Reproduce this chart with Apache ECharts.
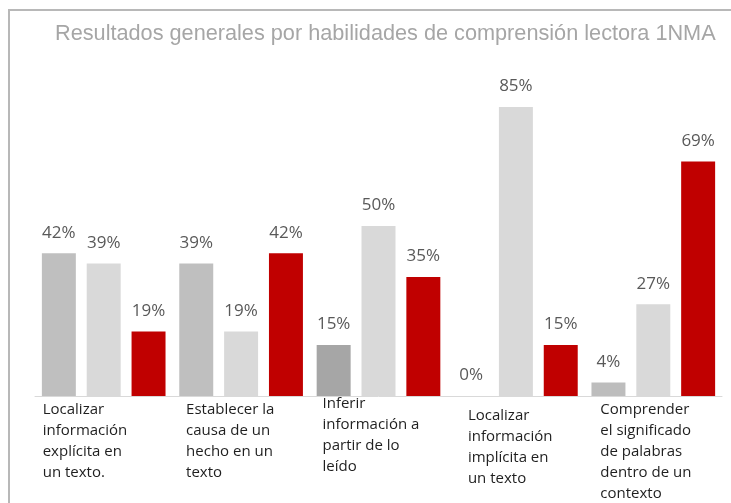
<!DOCTYPE html>
<html>
<head>
<meta charset="utf-8">
<script src="https://cdn.jsdelivr.net/npm/echarts@6/dist/echarts.min.js"></script>
<style>
  html, body { margin: 0; padding: 0; background: #fff; }
  #frame {
    position: absolute; left: 8px; top: 9px; width: 760px; height: 520px;
    border-left: 2px solid #b8b8b8; border-top: 2px solid #b8b8b8;
  }
  #chart { position: absolute; left: 0; top: 0; width: 731px; height: 503px; }
</style>
</head>
<body>
<div id="frame"></div>
<div id="chart"></div>
<script>
// categorias (eje x)
const categories = [
  "Localizar\ninformación\nexplícita en\nun texto.",
  "Establecer la\ncausa de un\nhecho en un\ntexto",
  "Inferir\ninformación a\npartir de lo\nleído",
  "Localizar\ninformación\nimplícita en\nun texto",
  "Comprender\nel significado\nde palabras\ndentro de un\ncontexto"
];
// valores en %
const serie1 = [42, 39, 15, 0, 4];
const serie2 = [39, 19, 50, 85, 27];
const serie3 = [19, 42, 35, 15, 69];
// colores de la primera serie (varian por barra)
const serie1Colors = ["#bfbfbf", "#bfbfbf", "#a6a6a6", "#bfbfbf", "#bdbdbd"];
// desplazamiento de las etiquetas del eje [arriba, izquierda]
const labelShift = [[0, -61], [0, -55], [-6, -56], [6, -48], [0, -53]];

const chart = echarts.init(document.getElementById("chart"));

const labelStyle = {
  show: true,
  position: "top",
  distance: 12,
  formatter: "{c}%",
  color: "#595959",
  fontFamily: "Open Sans",
  fontSize: 17
};

chart.setOption({
  animation: false,
  title: {
    text: "Resultados generales por habilidades de comprensión lectora 1NMA",
    left: 50,
    top: 18,
    textStyle: {
      color: "#a6a6a6",
      fontFamily: "Liberation Sans",
      fontWeight: "normal",
      fontSize: 21.7
    }
  },
  grid: { left: 35, right: 9, top: 56, bottom: 107, outerBoundsMode: "none" },
  xAxis: {
    type: "category",
    data: categories.map((c, i) => ({
      value: c,
      textStyle: {
        align: "left",
        padding: [labelShift[i][0], 0, 0, labelShift[i][1]]
      }
    })),
    axisLine: { lineStyle: { color: "#d9d9d9", width: 1 } },
    axisTick: { show: false },
    axisLabel: {
      interval: 0,
      margin: 3,
      align: "left",
      verticalAlign: "top",
      lineHeight: 21,
      fontFamily: "Open Sans",
      fontSize: 15,
      color: "#1f1f1f"
    }
  },
  yAxis: {
    type: "value",
    min: 0,
    max: 100,
    show: false,
    splitLine: { show: false }
  },
  series: [
    {
      type: "bar",
      data: serie1.map((v, i) => ({ value: v, itemStyle: { color: serie1Colors[i] } })),
      barGap: "32%",
      barCategoryGap: "10%",
      label: labelStyle
    },
    {
      type: "bar",
      data: serie2,
      itemStyle: { color: "#d9d9d9" },
      barGap: "32%",
      barCategoryGap: "10%",
      label: labelStyle
    },
    {
      type: "bar",
      data: serie3,
      itemStyle: { color: "#c00000" },
      barGap: "32%",
      barCategoryGap: "10%",
      label: labelStyle
    }
  ]
});
</script>
</body>
</html>
